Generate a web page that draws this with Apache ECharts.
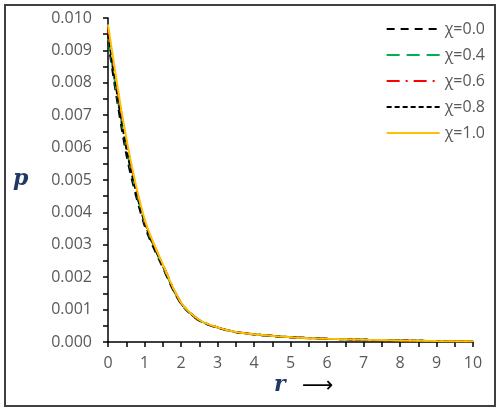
<!DOCTYPE html>
<html>
<head>
<meta charset="utf-8">
<script src="https://cdn.jsdelivr.net/npm/echarts@6/dist/echarts.min.js"></script>
<style>
  html, body { margin: 0; padding: 0; background: #fff; }
  #chart { width: 502px; height: 414px; }
</style>
</head>
<body>
<div id="chart"></div>
<script>
// r values and p for each chi
const rValues = [0, 0.5, 1, 1.5, 2, 2.5, 3, 3.5, 4, 5, 6, 7, 8, 9, 10];
const chi00 = [0.0093, 0.0058, 0.0036, 0.0023, 0.00118, 0.00066, 0.00044, 0.00030, 0.00023, 0.00014, 0.00010, 0.00007, 0.00005, 0.00003, 0.00002];
const chi04 = [0.0094, 0.0060, 0.0037, 0.00235, 0.0012, 0.00067, 0.00045, 0.00031, 0.00024, 0.00015, 0.00010, 0.00007, 0.00005, 0.00003, 0.00002];
const chi06 = [0.0096, 0.0062, 0.00375, 0.0024, 0.00122, 0.00068, 0.00045, 0.00031, 0.00024, 0.00015, 0.00010, 0.00007, 0.00005, 0.00003, 0.00002];
const chi08 = [0.0095, 0.0060, 0.0037, 0.00235, 0.0012, 0.00067, 0.00045, 0.00031, 0.00024, 0.00015, 0.00010, 0.00007, 0.00005, 0.00003, 0.00002];
const chi10 = [0.0098, 0.0063, 0.0038, 0.0024, 0.00122, 0.00068, 0.00045, 0.00031, 0.00024, 0.00015, 0.00010, 0.00007, 0.00005, 0.00003, 0.00002];
const seriesNames = ['χ=0.0', 'χ=0.4', 'χ=0.6', 'χ=0.8', 'χ=1.0'];

const labelFont = '"Open Sans", Lato, sans-serif';
const grayText = '#595959';

function pairs(vals) {
    return rValues.map((r, i) => [r, vals[i]]);
}

function makeSeries(name, vals, color, type) {
    return {
        name: name,
        type: 'line',
        data: pairs(vals),
        smooth: 0.3,
        symbol: 'none',
        lineStyle: { color: color, width: 2, type: type },
        itemStyle: { color: color }
    };
}

const myChart = echarts.init(document.getElementById('chart'));

const option = {
    backgroundColor: '#fff',
    animation: false,
    grid: { left: 108, right: 29, top: 18, bottom: 72 },
    legend: {
        orient: 'vertical',
        right: 12,
        top: 16,
        itemWidth: 53,
        itemHeight: 14,
        itemGap: 10,
        itemStyle: { opacity: 0 },
        textStyle: { color: grayText, fontSize: 16, fontFamily: labelFont },
        data: seriesNames
    },
    xAxis: {
        type: 'value',
        min: 0,
        max: 10,
        interval: 1,
        axisLine: { lineStyle: { color: '#000', width: 1.5 } },
        axisTick: { inside: false, length: 5, lineStyle: { color: '#000', width: 1.5 } },
        minorTick: { show: true, splitNumber: 2, length: 5, lineStyle: { color: '#000', width: 1.5 } },
        axisLabel: { color: grayText, fontSize: 16, fontFamily: labelFont, margin: 13 },
        splitLine: { show: false }
    },
    yAxis: {
        type: 'value',
        min: 0,
        max: 0.01,
        interval: 0.001,
        axisLine: { show: true, lineStyle: { color: '#000', width: 1.5 } },
        axisTick: { show: true, inside: false, length: 5, lineStyle: { color: '#000', width: 1.5 } },
        minorTick: { show: true, splitNumber: 2, length: 5, lineStyle: { color: '#000', width: 1.5 } },
        axisLabel: {
            color: grayText, fontSize: 16, fontFamily: labelFont, margin: 16,
            formatter: v => v.toFixed(3)
        },
        splitLine: { show: false }
    },
    graphic: [
        {
            type: 'rect',
            shape: { x: 5, y: 5, width: 490, height: 401 },
            style: { fill: 'none', stroke: '#404040', lineWidth: 2 },
            silent: true
        },
        {
            type: 'text',
            left: 13,
            top: 168,
            style: {
                text: 'p',
                font: 'italic bold 22px "DejaVu Serif", serif',
                fill: '#1F3864'
            }
        },
        {
            type: 'text',
            left: 274,
            top: 374,
            style: {
                text: 'r',
                font: 'italic bold 22px "DejaVu Serif", serif',
                fill: '#1F3864'
            }
        },
        {
            type: 'text',
            left: 302,
            top: 375,
            style: {
                text: '⟶',
                font: '22px "DejaVu Sans", sans-serif',
                fill: '#000'
            }
        }
    ],
    series: [
        makeSeries(seriesNames[0], chi00, '#000000', [8, 6]),
        makeSeries(seriesNames[1], chi04, '#00B050', [13, 7]),
        makeSeries(seriesNames[2], chi06, '#FF0000', [13, 6, 2, 6]),
        makeSeries(seriesNames[3], chi08, '#000000', [5, 3]),
        makeSeries(seriesNames[4], chi10, '#FFC000', 'solid')
    ]
};

myChart.setOption(option);
</script>
</body>
</html>
